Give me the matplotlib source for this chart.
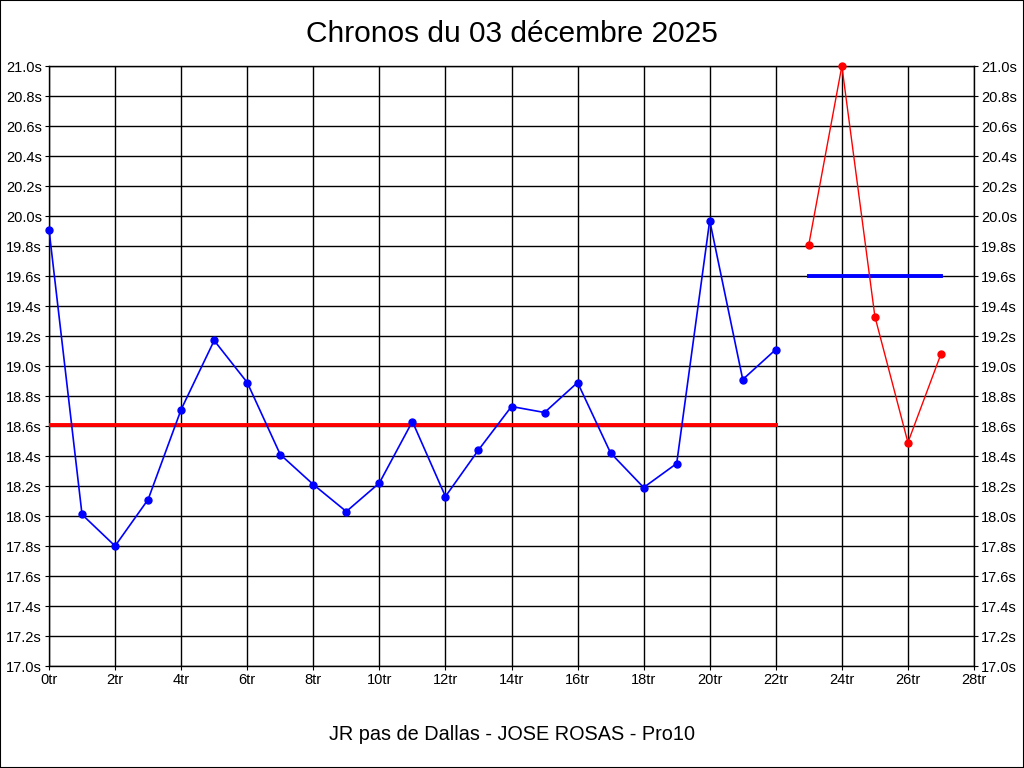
import matplotlib
matplotlib.use("Agg")
import matplotlib.pyplot as plt
from matplotlib.patches import Rectangle

plt.rcParams['font.family'] = ['Liberation Sans', 'DejaVu Sans']

title = "Chronos du 03 décembre 2025"
xlabel = "JR pas de Dallas - JOSE ROSAS - Pro10"

blue_laps = list(range(0, 23))
blue_times = [19.91, 18.01, 17.80, 18.11, 18.71, 19.17, 18.89, 18.41, 18.21, 18.03,
              18.22, 18.63, 18.13, 18.44, 18.73, 18.69, 18.89, 18.42, 18.19, 18.35,
              19.97, 18.91, 19.11]
red_laps = [23, 24, 25, 26, 27]
red_times = [19.81, 21.00, 19.33, 18.49, 19.08]

blue_mean = 18.61
blue_mean_range = [0, 22]
red_mean = 19.60
red_mean_range = [23, 27]

x_ticks = list(range(0, 29, 2))
x_ticklabels = [f"{v}tr" for v in x_ticks]
y_ticks = [17.0 + 0.2 * i for i in range(21)]
y_ticklabels = [f"{v:.1f}s" for v in y_ticks]

fig = plt.figure(figsize=(10.24, 7.68), dpi=100)
ax = fig.add_axes([49 / 1024, 1 - 666 / 768, (974 - 49) / 1024, 600 / 768])

ax.plot(blue_laps, blue_times, color='#0000ff', lw=1.2, marker='o', ms=5, zorder=4, clip_on=False)
ax.plot(red_laps, red_times, color='#ff0000', lw=1.0, marker='o', ms=5, zorder=4, clip_on=False)
ax.plot(blue_mean_range, [blue_mean, blue_mean], color='#ff0000', lw=2.8, zorder=3)
ax.plot(red_mean_range, [red_mean, red_mean], color='#0000ff', lw=2.8, zorder=3)

ax.set_xlim(0, 28)
ax.set_ylim(17.0, 21.0)
ax.set_xticks(x_ticks)
ax.set_xticklabels(x_ticklabels)
ax.set_yticks(y_ticks)
ax.set_yticklabels(y_ticklabels)
ax.grid(True, color='black', lw=1.0)
ax.set_axisbelow(True)
ax.tick_params(axis='both', labelsize=10.5, length=3, color='black', pad=2)
ax.tick_params(axis='y', which='both', left=True, right=True, labelleft=True, labelright=True)
for s in ax.spines.values():
    s.set_color('black')
    s.set_linewidth(1.0)

fig.text(0.5, 1 - 34 / 768, title, ha='center', va='center', fontsize=21.5)
fig.text(0.5, 1 - 735 / 768, xlabel, ha='center', va='center', fontsize=14.3)

fig.patches.append(Rectangle((0, 0), 1, 1, transform=fig.transFigure, fill=False,
                             edgecolor='black', lw=1.5))

fig.savefig("out.png", dpi=100)
